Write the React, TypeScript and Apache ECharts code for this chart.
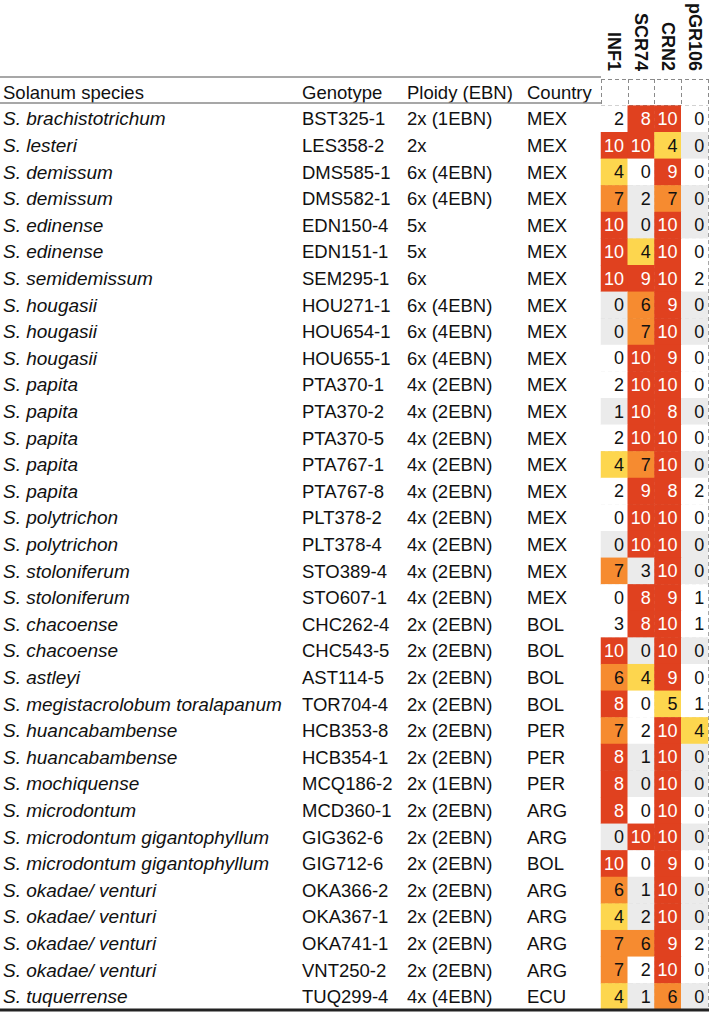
import React, { useEffect, useRef } from "react";
import * as echarts from "echarts";

const markers = ["INF1", "SCR74", "CRN2", "pGR106"];

const species = [
  "S. brachistotrichum", "S. lesteri", "S. demissum", "S. demissum", "S. edinense", "S. edinense",
  "S. semidemissum", "S. hougasii", "S. hougasii", "S. hougasii", "S. papita", "S. papita",
  "S. papita", "S. papita", "S. papita", "S. polytrichon", "S. polytrichon", "S. stoloniferum",
  "S. stoloniferum", "S. chacoense", "S. chacoense", "S. astleyi", "S. megistacrolobum toralapanum",
  "S. huancabambense", "S. huancabambense", "S. mochiquense", "S. microdontum",
  "S. microdontum gigantophyllum", "S. microdontum gigantophyllum", "S. okadae/ venturi",
  "S. okadae/ venturi", "S. okadae/ venturi", "S. okadae/ venturi", "S. tuquerrense",
];

const genotypes = [
  "BST325-1", "LES358-2", "DMS585-1", "DMS582-1", "EDN150-4", "EDN151-1", "SEM295-1", "HOU271-1",
  "HOU654-1", "HOU655-1", "PTA370-1", "PTA370-2", "PTA370-5", "PTA767-1", "PTA767-8", "PLT378-2",
  "PLT378-4", "STO389-4", "STO607-1", "CHC262-4", "CHC543-5", "AST114-5", "TOR704-4", "HCB353-8",
  "HCB354-1", "MCQ186-2", "MCD360-1", "GIG362-6", "GIG712-6", "OKA366-2", "OKA367-1", "OKA741-1",
  "VNT250-2", "TUQ299-4",
];

const ploidy = [
  "2x (1EBN)", "2x", "6x (4EBN)", "6x (4EBN)", "5x", "5x", "6x", "6x (4EBN)", "6x (4EBN)", "6x (4EBN)",
  "4x (2EBN)", "4x (2EBN)", "4x (2EBN)", "4x (2EBN)", "4x (2EBN)", "4x (2EBN)", "4x (2EBN)",
  "4x (2EBN)", "4x (2EBN)", "2x (2EBN)", "2x (2EBN)", "2x (2EBN)", "2x (2EBN)", "2x (2EBN)",
  "2x (2EBN)", "2x (1EBN)", "2x (2EBN)", "2x (2EBN)", "2x (2EBN)", "2x (2EBN)", "2x (2EBN)",
  "2x (2EBN)", "2x (2EBN)", "4x (4EBN)",
];

const countries = [
  "MEX", "MEX", "MEX", "MEX", "MEX", "MEX", "MEX", "MEX", "MEX", "MEX", "MEX", "MEX", "MEX", "MEX",
  "MEX", "MEX", "MEX", "MEX", "MEX", "BOL", "BOL", "BOL", "BOL", "PER", "PER", "PER", "ARG", "ARG",
  "BOL", "ARG", "ARG", "ARG", "ARG", "ECU",
];

const inf1 = [2, 10, 4, 7, 10, 10, 10, 0, 0, 0, 2, 1, 2, 4, 2, 0, 0, 7, 0, 3, 10, 6, 8, 7, 8, 8, 8, 0, 10, 6, 4, 7, 7, 4];
const scr74 = [8, 10, 0, 2, 0, 4, 9, 6, 7, 10, 10, 10, 10, 7, 9, 10, 10, 3, 8, 8, 0, 4, 0, 2, 1, 0, 0, 10, 0, 1, 2, 6, 2, 1];
const crn2 = [10, 4, 9, 7, 10, 10, 10, 9, 10, 9, 10, 8, 10, 10, 8, 10, 10, 10, 9, 10, 10, 9, 5, 10, 10, 10, 10, 10, 9, 10, 10, 9, 10, 6];
const pgr106 = [0, 0, 0, 0, 0, 0, 2, 0, 0, 0, 0, 0, 0, 0, 2, 0, 0, 0, 1, 1, 0, 0, 1, 4, 0, 0, 0, 0, 0, 0, 0, 2, 0, 0];
// 1 = grey background for low scores in that row, 0 = white
const rowShade = [0, 1, 0, 1, 1, 0, 0, 1, 1, 0, 0, 1, 0, 1, 0, 0, 1, 1, 0, 0, 1, 0, 0, 0, 1, 1, 0, 1, 0, 1, 1, 0, 0, 1];

const headers = ["Solanum species", "Genotype", "Ploidy (EBN)", "Country"];

const RED = "#E0411F";
const ORANGE = "#F68B30";
const YELLOW = "#FDD64E";
const GREY = "#EBEBEB";
const WHITE = "#FFFFFF";

// colour class: 0 white, 1 grey, 2 yellow, 3 orange, 4 red
function colorClass(v: number, shade: number) {
  if (v >= 8) return 4;
  if (v >= 6) return 3;
  if (v >= 4) return 2;
  return shade ? 1 : 0;
}

export default function App() {
  const ref = useRef<HTMLDivElement>(null);
  useEffect(() => {
    if (!ref.current) return;
    const chart = echarts.init(ref.current, null, { renderer: "svg" });
    const cols = [inf1, scr74, crn2, pgr106];
    const data: any[] = [];
    for (let r = 0; r < species.length; r++) {
      for (let c = 0; c < 4; c++) {
        const v = cols[c][r];
        const cls = colorClass(v, rowShade[r]);
        data.push({
          value: [c, r + 1, v, cls],
          label: { color: cls === 4 ? "#FFFFFF" : "#111111" },
        });
      }
    }
    const font = "'Liberation Sans', Arial, Helvetica, sans-serif";
    const textCols = [
      { data: species, x: 3, italic: true, size: 19 },
      { data: genotypes, x: 302, italic: false, size: 18.5 },
      { data: ploidy, x: 407, italic: false, size: 18.5 },
      { data: countries, x: 527, italic: false, size: 18.5 },
    ];
    const gridLeft = 601;
    const gridTop = 77;
    const gridRight = 708;
    const gridBottom = 1010;
    const yAxes = textCols.map((tc, i) => ({
      type: "category",
      data: [headers[i], ...tc.data],
      inverse: true,
      position: "left",
      offset: gridLeft - tc.x,
      axisLine: { show: false },
      axisTick: { show: false },
      splitLine: i === 0 ? { show: true, lineStyle: { color: "#8a8a8a", type: [4, 3], width: 1 } } : { show: false },
      axisLabel: {
        show: true,
        interval: 0,
        margin: 0,
        align: "left",
        verticalAlign: "middle",
        fontFamily: font,
        fontSize: tc.size,
        color: "#111",
        formatter: (v: string, idx: number) => (idx === 0 ? `{h|${v}}` : tc.italic ? `{it|${v}}` : `{n|${v}}`),
        rich: {
          h: { fontFamily: font, fontSize: 18.5, color: "#111", fontStyle: "normal" },
          it: { fontFamily: font, fontSize: tc.size, color: "#111", fontStyle: "italic" },
          n: { fontFamily: font, fontSize: tc.size, color: "#111", fontStyle: "normal" },
        },
      },
    }));
    chart.setOption({
      animation: false,
      backgroundColor: "#ffffff",
      grid: {
        left: gridLeft,
        top: gridTop,
        width: gridRight - gridLeft,
        height: gridBottom - gridTop,
        containLabel: false,
      },
      visualMap: {
        type: "piecewise",
        show: false,
        dimension: 3,
        seriesIndex: 0,
        pieces: [
          { value: 0, color: WHITE },
          { value: 1, color: GREY },
          { value: 2, color: YELLOW },
          { value: 3, color: ORANGE },
          { value: 4, color: RED },
        ],
      },
      xAxis: {
        type: "category",
        data: markers,
        position: "top",
        axisLine: { show: false },
        axisTick: { show: false },
        splitLine: { show: true, lineStyle: { color: "#8a8a8a", type: [4, 3], width: 1 } },
        axisLabel: {
          interval: 0,
          rotate: 90,
          margin: 8,
          padding: [7, 0, 0, 0],
          fontFamily: font,
          fontWeight: "bold",
          fontSize: 18,
          color: "#111",
        },
      },
      yAxis: yAxes,
      series: [
        {
          type: "heatmap",
          xAxisIndex: 0,
          yAxisIndex: 0,
          data,
          label: {
            show: true,
            position: "insideRight",
            distance: 4,
            fontFamily: font,
            fontSize: 18,
            formatter: (p: any) => String(p.value[2]),
          },
          itemStyle: { borderWidth: 0 },
          emphasis: { disabled: true },
          z: 1,
        },
      ],
      graphic: [
        { type: "line", z: 10, shape: { x1: 0, y1: gridTop, x2: gridLeft, y2: gridTop }, style: { stroke: "#8a8a8a", lineWidth: 1.5 } },
        { type: "line", z: 10, shape: { x1: 0, y1: gridTop + 26, x2: gridLeft, y2: gridTop + 26 }, style: { stroke: "#8a8a8a", lineWidth: 1.5 } },
        { type: "line", z: 10, shape: { x1: 0, y1: gridBottom, x2: 709, y2: gridBottom }, style: { stroke: "#222", lineWidth: 3 } },
      ],
    });
    return () => chart.dispose();
  }, []);
  return <div ref={ref} style={{ position: "fixed", left: 0, top: 0, width: 709, height: 1013 }} />;
}
